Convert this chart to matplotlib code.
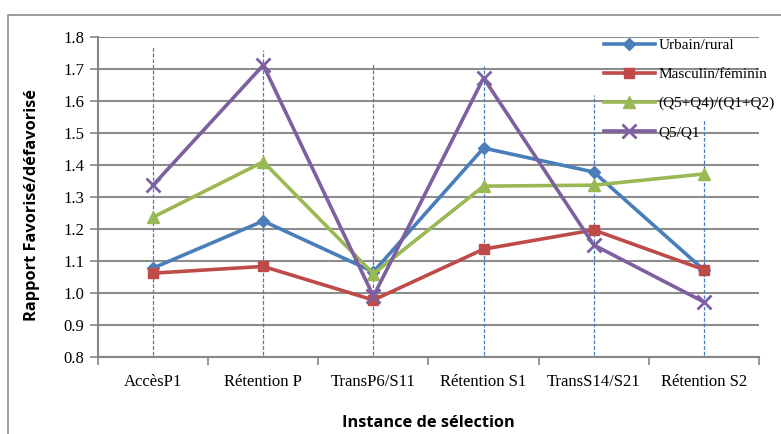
import matplotlib
matplotlib.use("Agg")
import matplotlib.pyplot as plt
from matplotlib.patches import Rectangle
import numpy as np

plt.rcParams["font.family"] = "Liberation Serif"

categories = ["AccèsP1", "Rétention P", "TransP6/S11", "Rétention S1", "TransS14/S21", "Rétention S2"]
urbain_rural = [1.078, 1.225, 1.066, 1.453, 1.378, 1.072]
masculin_feminin = [1.062, 1.083, 0.978, 1.137, 1.197, 1.073]
q54_q12 = [1.237, 1.410, 1.060, 1.334, 1.337, 1.372]
q5_q1 = [1.337, 1.712, 0.990, 1.672, 1.150, 0.972]
series_names = ["Urbain/rural", "Masculin/féminin", "(Q5+Q4)/(Q1+Q2)", "Q5/Q1"]
# top of the hand-drawn dashed guide lines (data units)
guide_tops = [1.77, 1.76, 1.72, 1.71, 1.62, 1.54]
yticks = [0.8, 0.9, 1.0, 1.1, 1.2, 1.3, 1.4, 1.5, 1.6, 1.7, 1.8]

colors = ["#4A7EBB", "#BE4B48", "#98B954", "#7D60A0"]
markers = ["D", "s", "^", "x"]
msizes = [6, 7, 8, 10]

fig = plt.figure(figsize=(7.81, 4.34), dpi=100)
ax = fig.add_axes([98 / 781, (434 - 357) / 434, (759 - 98) / 781, (357 - 37) / 434])

x = np.arange(len(categories))

# dashed guide lines
for xi, top in zip(x, guide_tops):
    ax.plot([xi, xi], [0.805, top], color="#4A7EBB", lw=0.9, ls=(0, (3, 1.5)), zorder=2)

for vals, name, c, m, ms in zip([urbain_rural, masculin_feminin, q54_q12, q5_q1],
                                series_names, colors, markers, msizes):
    ax.plot(x, vals, color=c, lw=2.6, marker=m, markersize=ms, mew=2 if m == "x" else 1,
            label=name, zorder=3)

ax.set_xlim(-0.5, len(categories) - 0.5)
ax.set_ylim(0.8, 1.8)
ax.set_yticks(yticks)
ax.set_yticklabels([f"{v:.1f}" for v in yticks], fontsize=12, fontfamily="Liberation Serif")
ax.set_xticks(x)
ax.set_xticklabels(categories, fontsize=12, fontfamily="Liberation Serif")
ax.set_xticks(np.arange(-0.5, len(categories), 1.0), minor=True)
ax.tick_params(axis="x", which="major", length=0, pad=12)
ax.tick_params(axis="x", which="minor", length=6, color="#868686", width=1.2)
ax.tick_params(axis="y", length=6, color="#868686", width=1.2, pad=4)

ax.grid(axis="y", color="#8C8C8C", lw=1.5, zorder=1)
ax.set_axisbelow(True)
for s in ["top", "right"]:
    ax.spines[s].set_visible(False)
ax.spines["left"].set_color("#868686")
ax.spines["left"].set_linewidth(1.5)
ax.spines["bottom"].set_color("#868686")
ax.spines["bottom"].set_linewidth(1.5)

ax.set_ylabel("Rapport Favorisé/défavorisé", fontfamily="Open Sans", fontweight="bold",
              fontsize=11.8)
ax.yaxis.set_label_coords(-0.088, 0.475)
ax.set_xlabel("Instance de sélection", fontfamily="Open Sans", fontweight="bold",
              fontsize=11.8, labelpad=18)

leg = ax.legend(loc="upper left", bbox_to_anchor=(500 / 661, 1.015), frameon=False,
                prop={"family": "Liberation Serif", "size": 11},
                handlelength=3.3, handletextpad=0.25, labelspacing=1.0, borderaxespad=0.0)
leg.set_clip_on(False)

# outer chart frame
fig.patches.append(Rectangle((8 / 781, -0.1), 1.2, 1.1 - 15 / 434, transform=fig.transFigure,
                             fill=False, edgecolor="#8C8C8C", lw=1.2))

fig.savefig("out.png", dpi=100)
